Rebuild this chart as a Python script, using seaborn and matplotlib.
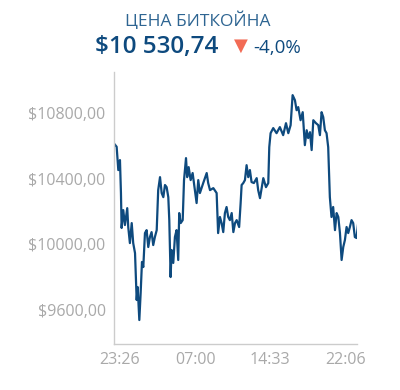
import matplotlib
matplotlib.use("Agg")
import matplotlib.pyplot as plt
import seaborn as sns
import pandas as pd

# minutes relative to 23:26
minutes = [-36, -20, -10, 0, 6, 10, 20, 30, 44, 50, 60, 71, 80, 91, 101, 107, 117, 125, 133, 141,
           151, 161, 171, 181, 191, 201, 211, 222, 231, 242, 252, 262, 272, 282, 292, 298, 306, 312,
           322, 332, 342, 352, 358, 367, 379, 387, 399, 406, 415, 427, 439, 453, 463, 473, 483, 503,
           524, 533, 544, 564, 584, 593, 604, 614, 624, 634, 644, 654, 664, 675, 685, 695, 705, 720,
           729, 735, 745, 755, 765, 775, 785, 795, 809, 826, 835, 846, 856, 866, 882, 896, 902, 910,
           926, 946, 966, 986, 1003, 1017, 1031, 1043, 1057, 1067, 1077, 1091, 1104, 1117, 1128,
           1137, 1148, 1158, 1168, 1184, 1198, 1208, 1218, 1228, 1238, 1248, 1258, 1268, 1278, 1288,
           1299, 1309, 1319, 1329, 1339, 1349, 1359, 1369, 1379, 1389, 1399, 1409, 1419, 1429, 1439]
price = [10615, 10595, 10453, 10514, 10313, 10100, 10209, 10118, 10221, 10106, 10008, 10130, 10008,
         9947, 9661, 9740, 9539, 9704, 9893, 9862, 10069, 10087, 9984, 10045, 10075, 9996, 10045,
         10087, 10331, 10410, 10313, 10288, 10362, 10349, 10288, 10148, 9801, 9966, 9887, 10045,
         10087, 9905, 10191, 10130, 10148, 10392, 10526, 10410, 10471, 10392, 10435, 10331, 10252,
         10392, 10313, 10374, 10435, 10374, 10331, 10343, 10313, 10069, 10167, 10130, 10075, 10191,
         10228, 10167, 10148, 10191, 10075, 10130, 10148, 10106, 10252, 10362, 10374, 10392, 10483,
         10410, 10453, 10380, 10374, 10404, 10331, 10282, 10343, 10404, 10349, 10374, 10593, 10678,
         10709, 10678, 10715, 10666, 10739, 10678, 10727, 10910, 10879, 10818, 10837, 10757, 10806,
         10605, 10696, 10648, 10684, 10575, 10757, 10739, 10727, 10666, 10806, 10776, 10696, 10678,
         10593, 10288, 10167, 10228, 10087, 10191, 10167, 10069, 9905, 9984, 10027, 10106, 10069,
         10106, 10148, 10130, 10045, 10039, 10130]

y_ticks = [9600, 10000, 10400, 10800]
y_tick_labels = ["$9600,00", "$10000,00", "$10400,00", "$10800,00"]
x_ticks = [0, 454, 907, 1360]
x_tick_labels = ["23:26", "07:00", "14:33", "22:06"]

title = "ЦЕНА БИТКОЙНА"
current_price = "$10 530,74"
change = "-4,0%"

sns.set_theme(style="white")
plt.rcParams["font.family"] = ["Open Sans", "DejaVu Sans"]

fig = plt.figure(figsize=(4.0, 3.9), dpi=100)
ax = fig.add_axes([0.285, 0.118, 0.6075, 0.697])

df = pd.DataFrame({"t": minutes, "price": price})
sns.lineplot(data=df, x="t", y="price", ax=ax, color="#0e4a7e", linewidth=1.6)

ax.set_xlim(-36, 1432)
ax.set_ylim(9393, 11050)
ax.set_yticks(y_ticks)
ax.set_yticklabels(y_tick_labels)
ax.set_xticks(x_ticks)
ax.set_xticklabels(x_tick_labels)
ax.set_xlabel("")
ax.set_ylabel("")
ax.tick_params(axis="both", length=0, labelsize=11.5, labelcolor="#a9a9a9", pad=6)
for s in ["top", "right"]:
    ax.spines[s].set_visible(False)
for s in ["left", "bottom"]:
    ax.spines[s].set_color("#cccccc")
    ax.spines[s].set_linewidth(1)

fig.text(0.495, 0.948, title, ha="center", va="center", fontsize=12.5, color="#2e6592")
fig.text(0.237, 0.879, current_price, ha="left", va="center", fontsize=17.5,
         color="#0e4a7e", fontweight="semibold")
fig.text(0.603, 0.882, "\u25BC", ha="center", va="center", fontsize=13, color="#f26b55",
         family=["DejaVu Sans"])
fig.text(0.632, 0.877, change, ha="left", va="center", fontsize=13.5, color="#0e4a7e")

fig.savefig("out.png", dpi=100)
